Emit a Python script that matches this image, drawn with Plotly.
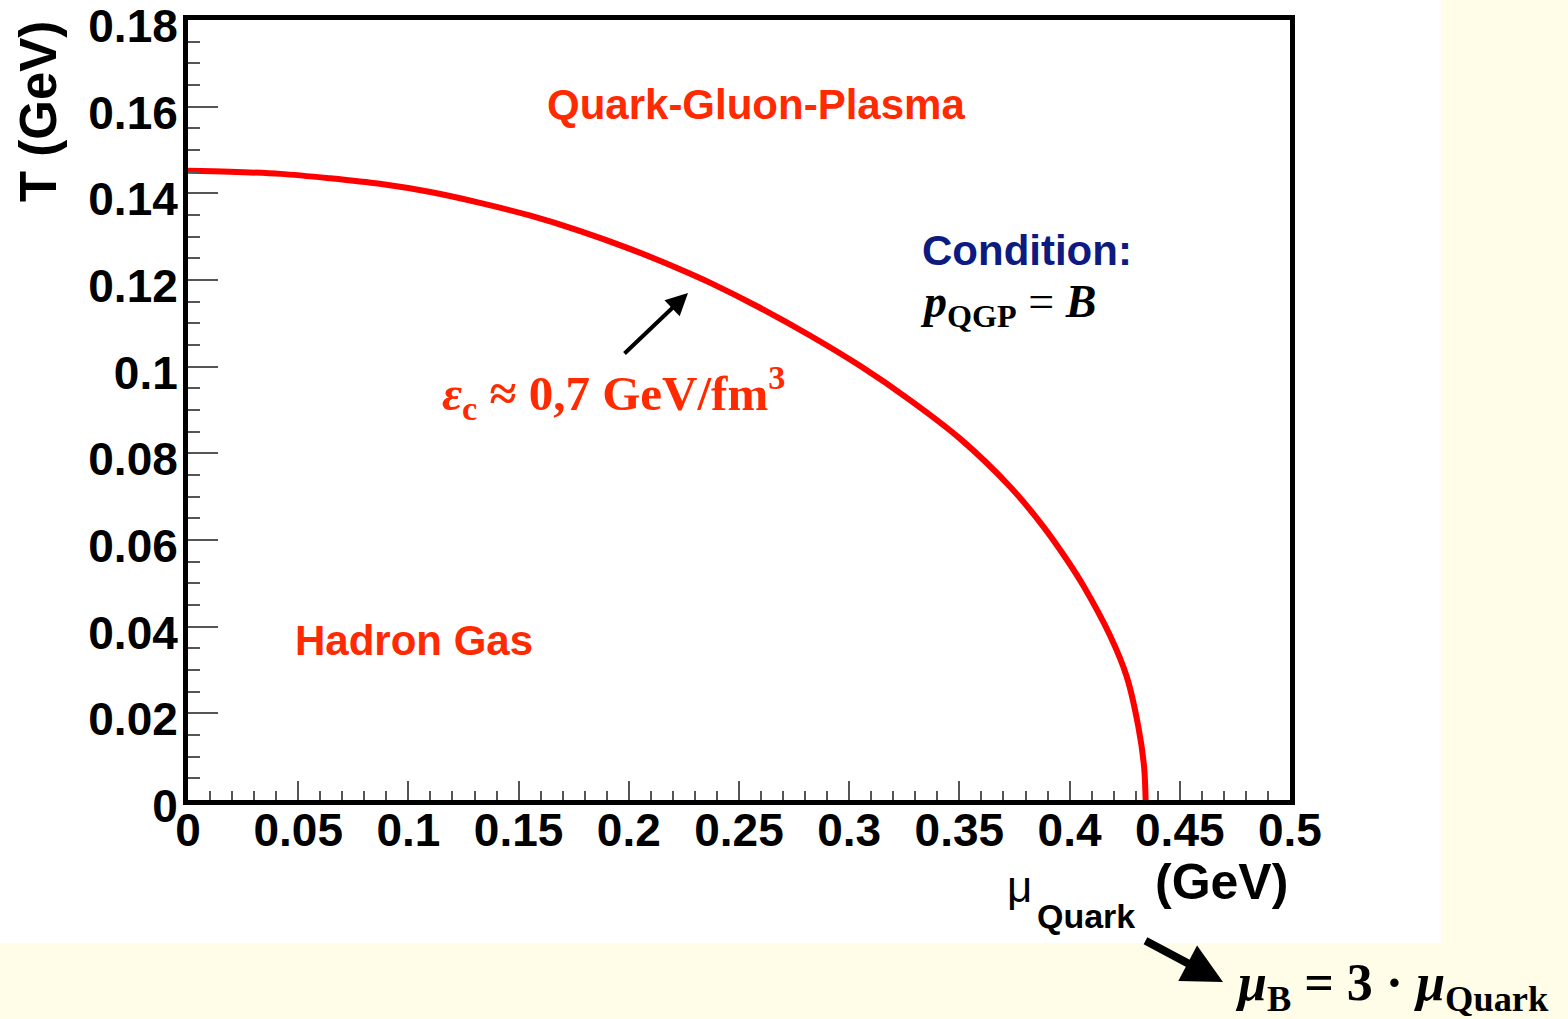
import plotly.graph_objects as go

# ---- data ----
mu_quark = [0.000, 0.019, 0.042, 0.064, 0.087, 0.110, 0.1325, 0.155, 0.178, 0.2005,
            0.2232, 0.2368, 0.2595, 0.2822, 0.3049, 0.3276, 0.3503, 0.3730, 0.3881,
            0.3987, 0.4062, 0.4183, 0.4259, 0.4312, 0.4338, 0.4345]
temperature = [0.1452, 0.1450, 0.1445, 0.1435, 0.1422, 0.1403, 0.1378, 0.1349, 0.1313, 0.1272,
               0.1225, 0.1194, 0.1136, 0.1072, 0.1002, 0.0923, 0.0834, 0.0723, 0.0631,
               0.0555, 0.0495, 0.0380, 0.0285, 0.0169, 0.0077, 0.0000]
x_ticks = [0, 0.05, 0.1, 0.15, 0.2, 0.25, 0.3, 0.35, 0.4, 0.45, 0.5]
x_tick_labels = ["0", "0.05", "0.1", "0.15", "0.2", "0.25", "0.3", "0.35", "0.4", "0.45", "0.5"]
y_ticks = [0, 0.02, 0.04, 0.06, 0.08, 0.1, 0.12, 0.14, 0.16, 0.18]
y_tick_labels = ["0", "0.02", "0.04", "0.06", "0.08", "0.1", "0.12", "0.14", "0.16", "0.18"]

W, H = 1568, 1019
L, R, T, B = 188, 278, 20, 219
PW, PH = W - L - R, H - T - B


def px(x):
    return (x - L) / PW


def py(y):
    return (H - B - y) / PH


SANS = "Liberation Sans"
SERIF = "Liberation Serif"
RED_TXT = "#FF2A00"
YELLOW = "#FFFDE8"

fig = go.Figure()
fig.add_trace(go.Scatter(x=mu_quark, y=temperature, mode="lines",
                         line=dict(color="#FF0000", width=6, shape="spline", smoothing=0.9),
                         hoverinfo="skip", showlegend=False))

fig.update_layout(
    width=W, height=H,
    margin=dict(l=L, r=R, t=T, b=B, autoexpand=False),
    paper_bgcolor=YELLOW,
    plot_bgcolor="white",
    showlegend=False,
)

fig.add_shape(type="rect", xref="paper", yref="paper", layer="below",
              x0=px(-5), x1=px(1441), y0=py(943), y1=py(-5),
              fillcolor="white", line=dict(width=0))

fig.update_xaxes(range=[0, 0.50001], tickvals=x_ticks, ticktext=x_tick_labels,
                 showgrid=False, zeroline=False,
                 showline=True, linecolor="black", linewidth=5, mirror=True,
                 ticks="inside", ticklen=19, tickwidth=2, tickcolor="#555555",
                 minor=dict(dtick=0.01, tick0=0, ticks="inside", ticklen=9, tickwidth=2, tickcolor="#555555"),
                 tickfont=dict(family=SANS, size=46, color="black", weight="bold"),
                 ticklabelstandoff=-14, ticklabeloverflow="allow")
fig.update_yaxes(range=[0, 0.18001], tickvals=y_ticks, ticktext=y_tick_labels,
                 showgrid=False, zeroline=False,
                 showline=True, linecolor="black", linewidth=5, mirror=True,
                 ticks="inside", ticklen=30, tickwidth=2, tickcolor="#555555",
                 minor=dict(dtick=0.005, tick0=0, ticks="inside", ticklen=12, tickwidth=2, tickcolor="#555555"),
                 tickfont=dict(family=SANS, size=46, color="black", weight="bold"),
                 ticklabelstandoff=-4, ticklabelshift=6, ticklabeloverflow="allow")

ann = []
# y-axis title
ann.append(dict(x=px(38), y=py(112), xref="paper", yref="paper", text="<b>T (GeV)</b>",
                textangle=-90, showarrow=False, xanchor="center", yanchor="middle",
                font=dict(family=SANS, size=51, color="black")))
# x-axis title pieces
ann.append(dict(x=px(1019), y=py(886), xref="paper", yref="paper", text="μ",
                showarrow=False, xanchor="center", yanchor="middle",
                font=dict(family=SANS, size=44, color="black")))
ann.append(dict(x=px(1086), y=py(916), xref="paper", yref="paper", text="<b>Quark</b>",
                showarrow=False, xanchor="center", yanchor="middle",
                font=dict(family=SANS, size=34, color="black")))
ann.append(dict(x=px(1221), y=py(882), xref="paper", yref="paper", text="<b>(GeV)</b>",
                showarrow=False, xanchor="center", yanchor="middle",
                font=dict(family=SANS, size=50, color="black")))
# region labels
ann.append(dict(x=px(756), y=py(105), xref="paper", yref="paper", text="<b>Quark-Gluon-Plasma</b>",
                showarrow=False, xanchor="center", yanchor="middle",
                font=dict(family=SANS, size=42, color=RED_TXT)))
ann.append(dict(x=px(414), y=py(640), xref="paper", yref="paper", text="<b>Hadron Gas</b>",
                showarrow=False, xanchor="center", yanchor="middle",
                font=dict(family=SANS, size=42, color=RED_TXT)))
ann.append(dict(x=px(920), y=py(251), xref="paper", yref="paper", text="<b>Condition:</b>",
                showarrow=False, xanchor="left", yanchor="middle",
                font=dict(family=SANS, size=42, color="#0D1A80")))
ann.append(dict(x=px(918), y=py(305), xref="paper", yref="paper",
                text="<b><i>p</i></b><sub><b>QGP</b></sub> = <b><i>B</i></b>",
                showarrow=False, xanchor="left", yanchor="middle",
                font=dict(family=SERIF, size=46, color="black")))
# energy density label
ann.append(dict(x=px(440), y=py(392), xref="paper", yref="paper",
                text="<b><i>ε</i></b><sub><b>c</b></sub><b> ≈ 0,7 GeV/fm</b><sup><b>3</b></sup>",
                showarrow=False, xanchor="left", yanchor="middle",
                font=dict(family=SERIF, size=49, color=RED_TXT)))
# arrow to the curve
ann.append(dict(x=px(688), y=py(293), xref="paper", yref="paper", text="",
                showarrow=True, arrowhead=2, arrowsize=1.1, arrowwidth=4, arrowcolor="black",
                ax=-65, ay=62, axref="pixel", ayref="pixel"))
# arrow to mu_B relation
ann.append(dict(x=px(1223), y=py(982), xref="paper", yref="paper", text="",
                showarrow=True, arrowhead=2, arrowsize=1.0, arrowwidth=8, arrowcolor="black",
                ax=-79, ay=-42, axref="pixel", ayref="pixel"))
ann.append(dict(x=px(1233), y=py(986), xref="paper", yref="paper",
                text="<b><i>μ</i></b><sub><b>B</b></sub><b> = 3 · </b><b><i>μ</i></b><sub><b>Quark</b></sub>",
                showarrow=False, xanchor="left", yanchor="middle",
                font=dict(family=SERIF, size=52, color="black")))

fig.update_layout(annotations=ann)

fig.write_html("out.html", config={"displayModeBar": False},
               post_script="document.body.style.margin='0px';document.body.style.overflow='hidden';")
